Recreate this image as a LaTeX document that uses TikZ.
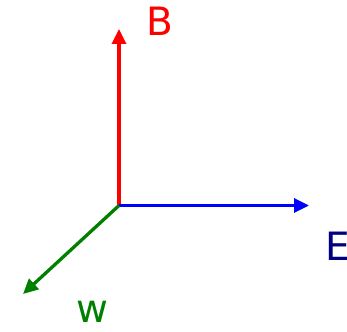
\documentclass[tikz,border=0pt]{standalone}
\usepackage{fontspec}
\setmainfont{DejaVu Sans}
\usetikzlibrary{arrows.meta}
\definecolor{campob}{RGB}{255,0,0}
\definecolor{campoe}{RGB}{0,0,255}
\definecolor{rotuloe}{RGB}{0,0,128}
\definecolor{ondaw}{RGB}{0,128,0}
\begin{document}
\begin{tikzpicture}[
  x=1pt, y=1pt,
  vector/.style={line width=3.3pt, -{Triangle[length=15pt,width=14pt]}},
  letra/.style={inner sep=0pt, anchor=base west,
                font=\fontsize{39}{39}\selectfont},
]
\useasboundingbox (0,0) rectangle (347,331);
% --- origen y puntas ------------------------------------------------------
\coordinate (o) at (119,125.5);
\coordinate (pb) at (119,302);
\coordinate (pe) at (309,125.5);
\coordinate (pw) at (23,37);
% --- vectores ---------------------------------------------------------------
\draw[vector, campob] (o) -- (pb);
\draw[vector, campoe] (o) -- (pe);
\draw[vector, ondaw] (o) -- (pw);
% --- rotulos ----------------------------------------------------------------
\node[letra, text=campob] (lb) at (146,295) {B};
\node[letra, text=rotuloe] (le) at (325,70) {E};
\node[letra, text=ondaw] (lw) at (76,9) {w};
\end{tikzpicture}
\end{document}
